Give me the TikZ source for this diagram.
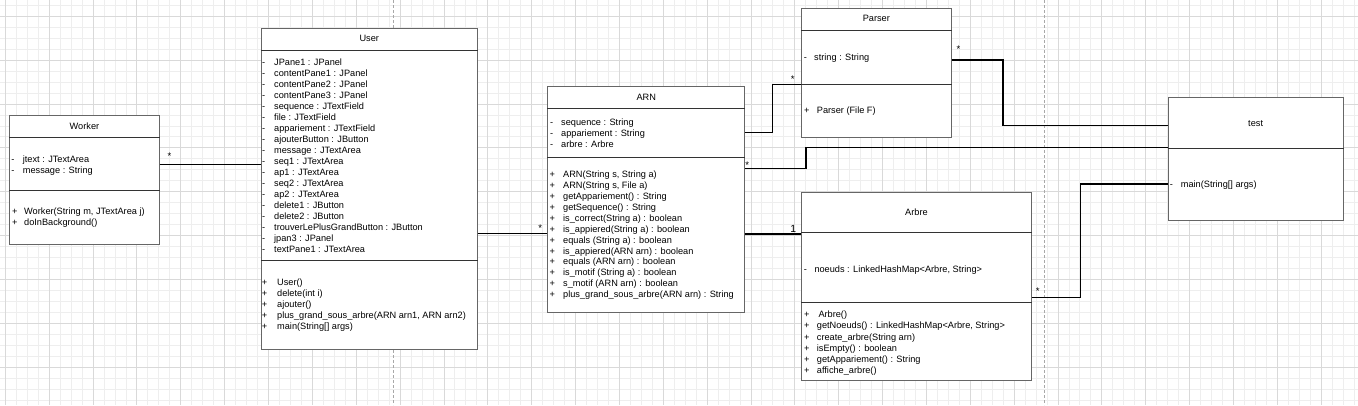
\documentclass[tikz,border=0pt]{standalone}
\usepackage{fontspec}
\setmainfont{Liberation Sans}
\definecolor{gridminor}{HTML}{EEEEEE}
\definecolor{gridmajor}{HTML}{D9D9D9}
\definecolor{boxline}{HTML}{666666}
\definecolor{divcol}{HTML}{333333}
\definecolor{pagecol}{HTML}{A8A8A8}
\begin{document}
\begin{tikzpicture}[x=1pt,y=-1pt,
  umlbox/.style={draw=boxline,fill=white,line width=0.9pt,inner sep=0pt,anchor=north west,rectangle},
  divline/.style={draw=divcol,line width=0.8pt},
  conn/.style={draw=black,line width=1.6pt},
  txt/.style={anchor=base west,inner sep=0pt,font=\fontsize{9.2}{11}\selectfont,text=black},
  ttl/.style={anchor=base,inner sep=0pt,font=\fontsize{9.2}{11}\selectfont,text=black},
  mult/.style={anchor=base,inner sep=0pt,font=\fontsize{9.6}{11}\selectfont,text=black}]
\useasboundingbox (0,0) rectangle (1358,405);
\fill[white] (0,0) rectangle (1358,405);
% grid
\foreach \k in {0,...,123} {
  \pgfmathsetmacro\xx{5.3+10.965*\k}
  \draw[gridminor,line width=0.8pt] (\xx,0) -- (\xx,405);
}
\foreach \k in {0,...,36} {
  \pgfmathsetmacro\yy{5.3+10.965*\k}
  \draw[gridminor,line width=0.8pt] (0,\yy) -- (1358,\yy);
}
\foreach \k in {0,...,30} {
  \pgfmathsetmacro\xx{5.3+43.86*\k}
  \draw[gridmajor,line width=0.8pt] (\xx,0) -- (\xx,405);
}
\foreach \k in {0,...,8} {
  \pgfmathsetmacro\yy{16.265+43.86*\k}
  \draw[gridmajor,line width=0.8pt] (0,\yy) -- (1358,\yy);
}
% page break lines
\draw[pagecol,line width=0.8pt,dash pattern=on 3pt off 2pt] (393.3,0) -- (393.3,405);
\draw[pagecol,line width=0.8pt,dash pattern=on 3pt off 2pt] (1044.3,0) -- (1044.3,405);

% ---------------- boxes
\node[umlbox,minimum width=149.4pt,minimum height=129.3pt] (worker) at (9.3,114.7) {};
\node[umlbox,minimum width=215.7pt,minimum height=320.7pt] (user) at (261,28) {};
\node[umlbox,minimum width=197pt,minimum height=226.3pt] (arn) at (547.3,86) {};
\node[umlbox,minimum width=149.7pt,minimum height=129pt] (parser) at (801,7.7) {};
\node[umlbox,minimum width=230pt,minimum height=188.6pt] (arbre) at (801,191.7) {};
\node[umlbox,minimum width=175pt,minimum height=122.7pt] (test) at (1167.7,97.3) {};

% dividers
\draw[divline] (worker.west |- 0,137.3) -- (worker.east |- 0,137.3);
\draw[divline] (worker.west |- 0,190) -- (worker.east |- 0,190);
\draw[divline] (user.west |- 0,50.7) -- (user.east |- 0,50.7);
\draw[divline] (user.west |- 0,260.3) -- (user.east |- 0,260.3);
\draw[divline] (arn.west |- 0,108.7) -- (arn.east |- 0,108.7);
\draw[divline] (arn.west |- 0,157.7) -- (arn.east |- 0,157.7);
\draw[divline] (parser.west |- 0,30.7) -- (parser.east |- 0,30.7);
\draw[divline] (parser.west |- 0,84) -- (parser.east |- 0,84);
\draw[divline] (arbre.west |- 0,232.3) -- (arbre.east |- 0,232.3);
\draw[divline] (arbre.west |- 0,302.7) -- (arbre.east |- 0,302.7);
\draw[divline] (test.west |- 0,148.3) -- (test.east |- 0,148.3);

% ---------------- titles
\node[ttl] (workerT) at (worker.north |- 0,129.3) {Worker};
\node[ttl] (userT) at (user.north |- 0,41.7) {User};
\node[ttl] (arnT) at (arn.north |- 0,100.7) {ARN};
\node[ttl] (parserT) at (parser.north |- 0,21.7) {Parser};
\node[ttl] (arbreT) at (arbre.north |- 0,215.7) {Arbre};
\node[ttl] (testT) at (test.north |- 0,126.1) {test};

% ---------------- Worker
\foreach \t [count=\i] in {jtext : JTextArea, message : String}
  \node[txt] (wa\i) at (11.3,{162.7+11*(\i-1)}) {\makebox[11.4pt][l]{-}\t};
\foreach \t [count=\i] in {{Worker(String m, JTextArea j)}, doInBackground()}
  \node[txt] (wm\i) at (11.9,{214.7+11*(\i-1)}) {\makebox[12.1pt][l]{+}\t};

% ---------------- User
\foreach \t [count=\i] in {JPane1 : JPanel, contentPane1 : JPanel, contentPane2 : JPanel,
  contentPane3 : JPanel, sequence : JTextField, file : JTextField, appariement : JTextField,
  ajouterButton : JButton, message : JTextArea, seq1 : JTextArea, ap1 : JTextArea,
  seq2 : JTextArea, ap2 : JTextArea, delete1 : JButton, delete2 : JButton,
  trouverLePlusGrandButton : JButton, jpan3 : JPanel, textPane1 : JTextArea}
  \node[txt] (ua\i) at (262,{65.1+11*(\i-1)}) {\makebox[12pt][l]{-}\t};
\foreach \t [count=\i] in {User(), delete(int i), ajouter(),
  {plus\_grand\_sous\_arbre(ARN arn1, ARN arn2)}, {main(String[] args)}}
  \node[txt] (um\i) at (261.6,{285.7+11*(\i-1)}) {\makebox[15.4pt][l]{+}\t};

% ---------------- ARN
\foreach \t [count=\i] in {sequence : String, appariement : String, arbre : Arbre}
  \node[txt] (aa\i) at (550,{125.7+10.8*(\i-1)}) {\makebox[11pt][l]{-}\t};
\foreach \t [count=\i] in {{ARN(String s, String a)}, {ARN(String s, File a)},
  getAppariement() : String, getSequence() : String, is\_correct(String a) : boolean,
  is\_appiered(String a) : boolean, equals (String a) : boolean,
  is\_appiered(ARN arn) : boolean, equals (ARN arn) : boolean,
  is\_motif (String a) : boolean, s\_motif (ARN arn) : boolean,
  plus\_grand\_sous\_arbre(ARN arn) : String}
  \node[txt] (am\i) at (549.4,{177.7+10.9*(\i-1)}) {\makebox[13.6pt][l]{+}\t};

% ---------------- Parser
\node[txt] (pa1) at (803.6,60.4) {\makebox[10.4pt][l]{-}string : String};
\node[txt] (pm1) at (803.8,113.1) {\makebox[12.9pt][l]{+}Parser (File F)};

% ---------------- Arbre
\node[txt] (ba1) at (803.6,272.1) {\makebox[10.7pt][l]{-}noeuds : LinkedHashMap<Arbre, String>};
\foreach \t [count=\i] in {\hspace{1.6pt}Arbre(), {getNoeuds() : LinkedHashMap<Arbre, String>},
  create\_arbre(String arn), isEmpty() : boolean, getAppariement() : String, affiche\_arbre()}
  \node[txt] (bm\i) at (804,{317.7+11.2*(\i-1)}) {\makebox[12.7pt][l]{+}\t};

% ---------------- test
\node[txt] (tm1) at (1169.6,187.4) {\makebox[11.1pt][l]{-}main(String[] args)};

% ---------------- connectors
\draw[conn] (worker.east |- 0,164.3) -- (user.west |- 0,164.3);
\draw[conn] (user.east |- 0,233.3) -- (arn.west |- 0,233.3);
\draw[conn] (arn.east |- 0,132.3) -| (772.3,84.3) -- (parser.west |- 0,84.3);
\draw[conn] (arn.east |- 0,168.3) -| (806,147.5) -- (test.west |- 0,147.5);
\draw[conn] (parser.east |- 0,59.7) -| (1002.7,125.3) -- (test.west |- 0,125.3);
\draw[conn] (arn.east |- 0,234.2) -- (arbre.west |- 0,234.2);
\draw[conn] (arbre.east |- 0,297.3) -| (1080.3,183.7) -- (test.west |- 0,183.7);

% multiplicities
\node[mult] (m1) at (169.4,159.8) {*};
\node[mult] (m2) at (540.3,231.6) {*};
\node[mult] (m3) at (792.7,82.5) {*};
\node[mult] (m4) at (747.3,168) {*};
\node[mult] (m5) at (958.5,52) {*};
\node[mult] (m6) at (1037.8,294.3) {*};
\node[mult,font=\fontsize{10.4}{11}\selectfont] (m7) at (793.3,232.7) {1};
\end{tikzpicture}
\end{document}
